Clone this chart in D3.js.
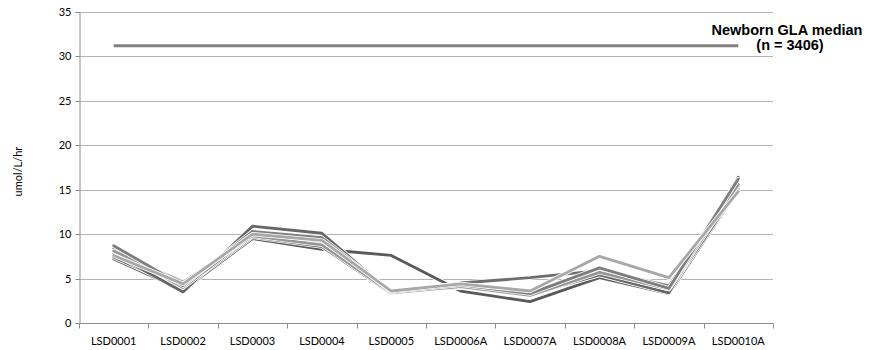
<!DOCTYPE html>
<html>
<head>
<meta charset="utf-8">
<script src="https://cdn.jsdelivr.net/npm/d3@7/dist/d3.min.js"></script>
<style>
  html, body { margin: 0; padding: 0; background: #fff; }
  svg { display: block; }
</style>
</head>
<body>
<svg id="chart" width="878" height="350"></svg>
<script>
// Sample identifiers along the x axis
const categories = ["LSD0001", "LSD0002", "LSD0003", "LSD0004", "LSD0005",
                    "LSD0006A", "LSD0007A", "LSD0008A", "LSD0009A", "LSD0010A"];

// GLA activity (umol/L/hr) per replicate run
const runA = [7.8, 3.5, 10.9, 10.1, 3.4, 4.2, 3.2, 5.4, 3.4, 16.4];
const runB = [7.2, 3.7,  9.5,  8.3, 7.6, 3.6, 2.4, 5.1, 3.3, 15.0];
const runC = [8.7, 4.2, 10.3,  9.6, 3.5, 4.3, 3.3, 6.2, 3.9, 16.2];
const runD = [8.4, 4.0,  9.9,  9.0, 3.5, 4.0, 3.5, 5.9, 4.2, 15.4];
const runE = [7.4, 3.9,  9.7,  8.6, 3.3, 4.5, 5.1, 5.9, 3.6, 15.1];
const runF = [7.6, 4.4, 10.0,  9.3, 3.6, 4.4, 3.6, 7.5, 5.1, 14.8];
const runG = [8.1, 4.6,  9.8,  8.8, 3.4, 4.1, 3.1, 5.7, 3.8, 15.6];

const seriesList = [runB, runE, runA, runD, runG, runC, runF];
const seriesColors = ["#5a5a5a", "#6e6e6e", "#666666", "#8a8a8a", "#969696", "#7d7d7d", "#a8a8a8"];

// Reference level
const medianValue = 31.2;
const medianLabel = ["Newborn GLA median", "(n = 3406)"];

const yTicks = [0, 5, 10, 15, 20, 25, 30, 35];
const yTitle = "umol/L/hr";

const svg = d3.select("#chart");
const plotLeft = 79, plotRight = 773, plotTop = 12, plotBottom = 323;

const x = d3.scaleBand().domain(categories).range([plotLeft, plotRight]).padding(0);
const y = d3.scaleLinear().domain([0, 35]).range([plotBottom, plotTop]);
const cx = d => x(d) + x.bandwidth() / 2;

// Horizontal gridlines
svg.append("g")
  .selectAll("line")
  .data(yTicks.filter(t => t > 0))
  .join("line")
  .attr("x1", plotLeft).attr("x2", plotRight)
  .attr("y1", d => Math.round(y(d)) + 0.5).attr("y2", d => Math.round(y(d)) + 0.5)
  .attr("stroke", "#b3b3b3").attr("stroke-width", 1);

// Y axis
const yAxis = svg.append("g")
  .attr("transform", `translate(${plotLeft + 0.5},0)`)
  .call(d3.axisLeft(y).tickValues(yTicks).tickSize(4).tickPadding(4));
yAxis.select(".domain").attr("stroke", "#8c8c8c");
yAxis.selectAll(".tick").attr("transform", d => `translate(0,${Math.round(y(d)) + 0.5})`);
yAxis.selectAll(".tick line").attr("stroke", "#8c8c8c");
yAxis.selectAll(".tick text")
  .attr("font-family", "Lato, 'Liberation Sans', sans-serif")
  .attr("font-size", 11).attr("fill", "#000");

// X axis with ticks on category boundaries
const xAxisG = svg.append("g").attr("transform", `translate(0,${Math.round(plotBottom) + 0.5})`);
xAxisG.append("line").attr("x1", plotLeft).attr("x2", plotRight).attr("stroke", "#8c8c8c");
xAxisG.selectAll("line.tk")
  .data(categories.map(c => x(c)).concat([plotRight]))
  .join("line").attr("class", "tk")
  .attr("x1", d => Math.round(d) + 0.5).attr("x2", d => Math.round(d) + 0.5)
  .attr("y1", 0).attr("y2", 5)
  .attr("stroke", "#8c8c8c");
xAxisG.selectAll("text")
  .data(categories)
  .join("text")
  .attr("x", d => cx(d)).attr("y", 21)
  .attr("text-anchor", "middle")
  .attr("font-family", "Lato, 'Liberation Sans', sans-serif")
  .attr("font-size", 11).attr("fill", "#000")
  .text(d => d);

// Y axis title
svg.append("text")
  .attr("transform", `translate(22,${(plotTop + plotBottom) / 2 + 4}) rotate(-90)`)
  .attr("text-anchor", "middle")
  .attr("font-family", "Lato, 'Liberation Sans', sans-serif")
  .attr("font-size", 11).attr("fill", "#000")
  .text(yTitle);

// Median reference line
svg.append("line")
  .attr("x1", cx(categories[0])).attr("x2", cx(categories[categories.length - 1]))
  .attr("y1", y(medianValue)).attr("y2", y(medianValue))
  .attr("stroke", "#808080").attr("stroke-width", 3);

svg.append("text")
  .attr("x", 787).attr("y", 35)
  .attr("text-anchor", "middle")
  .attr("font-family", "'Liberation Sans', Arial, sans-serif")
  .attr("font-weight", "bold").attr("font-size", 14.5).attr("fill", "#000")
  .selectAll("tspan")
  .data(medianLabel)
  .join("tspan")
  .attr("x", (d, i) => i === 0 ? 787 : 790)
  .attr("y", (d, i) => i === 0 ? 35 : 50)
  .text(d => d);

// Replicate series lines
const line = d3.line().x((d, i) => cx(categories[i])).y(d => y(d));
const runs = svg.append("g");
seriesList.forEach((vals, i) => {
  runs.append("path")
    .attr("d", line(vals))
    .attr("fill", "none").attr("stroke", "#ffffff")
    .attr("stroke-width", 4.4).attr("stroke-linejoin", "round").attr("stroke-linecap", "round");
  runs.append("path")
    .attr("d", line(vals))
    .attr("fill", "none").attr("stroke", seriesColors[i])
    .attr("stroke-width", 2.8).attr("stroke-linejoin", "round").attr("stroke-linecap", "round");
});
</script>
</body>
</html>
